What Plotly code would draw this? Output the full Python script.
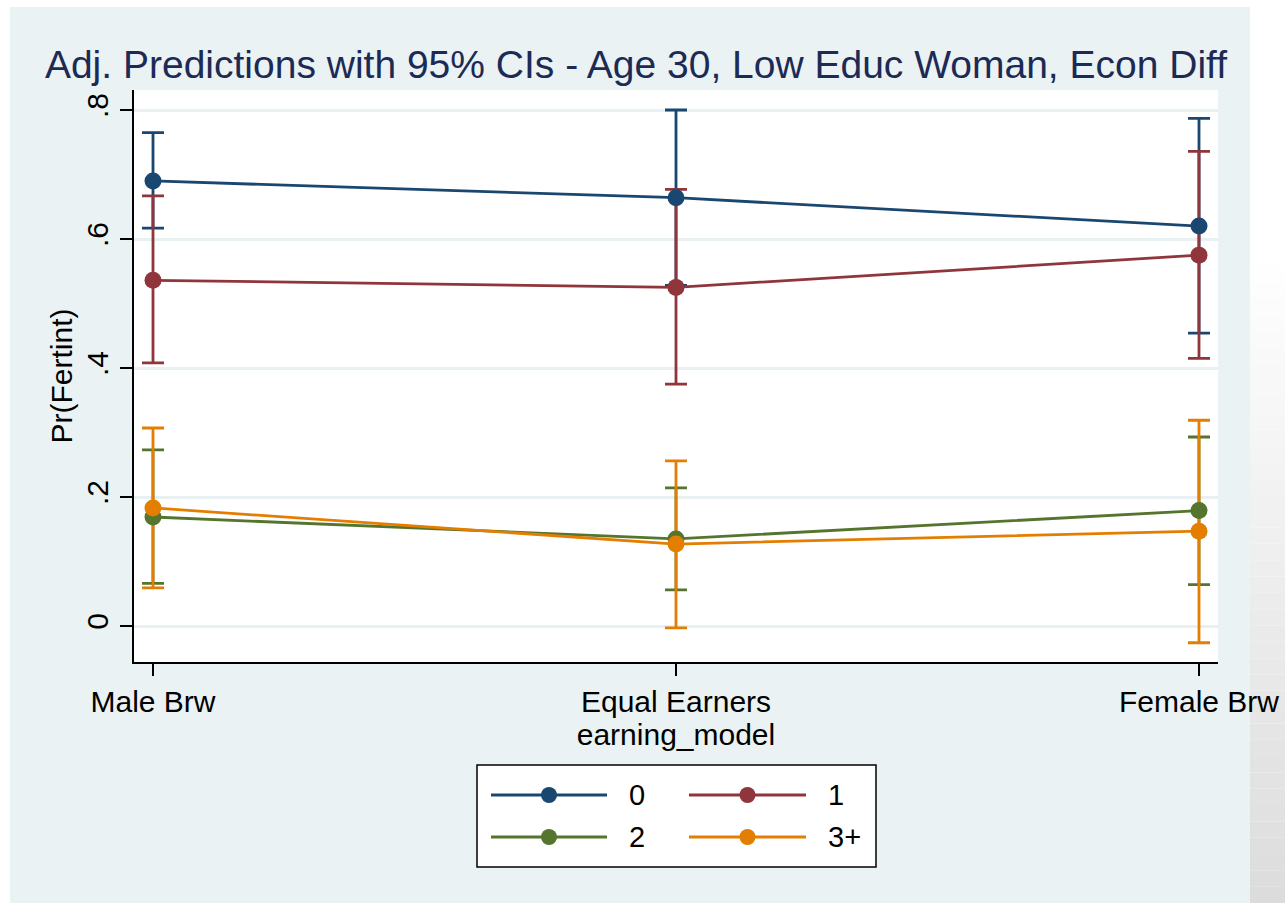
import plotly.graph_objects as go

# ---- data ----
categories = ["Male Brw", "Equal Earners", "Female Brw"]
series_names = ["0", "1", "2", "3+"]
pred_0 = [0.690, 0.664, 0.620]
lo_0 = [0.617, 0.528, 0.454]
hi_0 = [0.765, 0.800, 0.787]
pred_1 = [0.536, 0.525, 0.575]
lo_1 = [0.408, 0.375, 0.415]
hi_1 = [0.667, 0.677, 0.736]
pred_2 = [0.169, 0.135, 0.179]
lo_2 = [0.066, 0.056, 0.064]
hi_2 = [0.273, 0.214, 0.293]
pred_3 = [0.183, 0.127, 0.147]
lo_3 = [0.059, -0.003, -0.026]
hi_3 = [0.307, 0.256, 0.319]
y_tickvals = [0, 0.2, 0.4, 0.6, 0.8]
y_ticktext = ["0", ".2", ".4", ".6", ".8"]

colors = ["#1a476f", "#90353b", "#55752f", "#e37e00"]
preds = [pred_0, pred_1, pred_2, pred_3]
los = [lo_0, lo_1, lo_2, lo_3]
his = [hi_0, hi_1, hi_2, hi_3]

W, H = 1285, 903
L, R, T, B = 134, 1218, 90, 662  # plot area in pixels
pw, ph = R - L, B - T


def px(x):
    return (x - L) / pw


def py(y):
    return (B - y) / ph


fig = go.Figure()

# CI caps first (drawn under lines, like Stata)
for p, lo, hi, c, n in zip(preds, los, his, colors, series_names):
    fig.add_trace(go.Scatter(
        x=categories, y=p, mode="markers",
        marker=dict(size=1, color="rgba(0,0,0,0)"),
        error_y=dict(type="data", symmetric=False,
                     array=[h - v for h, v in zip(hi, p)],
                     arrayminus=[v - l for v, l in zip(p, lo)],
                     color=c, thickness=2.8, width=11),
        showlegend=False, hoverinfo="skip"))

for p, c, n in zip(preds, colors, series_names):
    fig.add_trace(go.Scatter(
        x=categories, y=p, mode="lines+markers", name=n,
        line=dict(color=c, width=2.8),
        marker=dict(size=17, color=c, line=dict(width=0)),
        showlegend=False))

shapes = []
# outer panel
shapes.append(dict(type="rect", xref="paper", yref="paper", layer="below",
                   x0=px(10), x1=px(1250), y0=py(903), y1=py(7),
                   fillcolor="#eaf2f3", line=dict(width=0)))
# white plot region
shapes.append(dict(type="rect", xref="paper", yref="paper", layer="below",
                   x0=0, x1=1, y0=0, y1=1,
                   fillcolor="white", line=dict(width=0)))
# right gradient strip
n_strips = 40
for i in range(n_strips):
    y0p = 250 + (903 - 250) * i / n_strips
    y1p = 250 + (903 - 250) * (i + 1) / n_strips
    g = int(round(255 - (255 - 220) * (i + 0.5) / n_strips))
    shapes.append(dict(type="rect", xref="paper", yref="paper", layer="below",
                       x0=px(1250), x1=px(1290), y0=py(y1p), y1=py(y0p),
                       fillcolor=f"rgb({g},{g},{g})", line=dict(width=0)))
# legend box
shapes.append(dict(type="rect", xref="paper", yref="paper", layer="below",
                   x0=px(477), x1=px(876), y0=py(867), y1=py(765),
                   fillcolor="white", line=dict(color="black", width=1.5)))

annotations = []
leg_pos = [(491, 607, 795, 627), (689, 806, 795, 826),
           (491, 607, 837, 627), (689, 806, 837, 826)]
for (x0, x1, yy, tx), c, n in zip(leg_pos, colors, series_names):
    shapes.append(dict(type="line", xref="paper", yref="paper",
                       x0=px(x0), x1=px(x1), y0=py(yy), y1=py(yy),
                       line=dict(color=c, width=2.8)))
    xm = (x0 + x1) / 2
    shapes.append(dict(type="circle", xref="paper", yref="paper",
                       xsizemode="pixel", ysizemode="pixel",
                       xanchor=px(xm), yanchor=py(yy),
                       x0=-8, x1=8, y0=-8, y1=8,
                       fillcolor=c, line=dict(width=0)))
    annotations.append(dict(xref="paper", yref="paper", x=px(tx), y=py(yy),
                            text=n, showarrow=False, xanchor="left",
                            yanchor="middle",
                            font=dict(size=29, color="black",
                                      family="Liberation Sans, Arial")))

fig.update_layout(
    width=W, height=H,
    margin=dict(l=L, r=W - R, t=T, b=H - B, pad=0, autoexpand=False),
    paper_bgcolor="white", plot_bgcolor="white",
    font=dict(family="Liberation Sans, Arial", color="black", size=30),
    title=dict(text="Adj. Predictions with 95% CIs - Age 30, Low Educ Woman, Econ Diff",
               x=636 / W, xanchor="center", xref="container",
               y=1 - 64 / H, yanchor="middle", yref="container",
               font=dict(size=39, color="#1c2a55")),
    xaxis=dict(type="category", range=[-(153 - L) / 523, 2 + (R - 1199) / 523],
               automargin=False,
               showline=True, linecolor="black", linewidth=1.5,
               ticks="outside", ticklen=12, tickwidth=1.5, tickcolor="black",
               showgrid=False, zeroline=False,
               tickfont=dict(size=30),
               title=dict(text="earning_model", font=dict(size=30), standoff=4)),
    yaxis=dict(range=[-(B - 626) / 645, 0.8 + (110 - T) / 645],
               automargin=False,
               tickvals=y_tickvals, ticktext=y_ticktext, tickangle=-90,
               showline=True, linecolor="black", linewidth=1.5,
               ticks="outside", ticklen=12, tickwidth=1.5, tickcolor="black",
               showgrid=True, gridcolor="#e8f0f2", gridwidth=2.5,
               zeroline=False, tickfont=dict(size=30),
               title=dict(text="Pr(Fertint)", font=dict(size=30), standoff=0)),
    shapes=shapes, annotations=annotations,
    showlegend=False,
)

fig.write_html("out.html", config={"displayModeBar": False},
               post_script="document.body.style.margin='0';")
